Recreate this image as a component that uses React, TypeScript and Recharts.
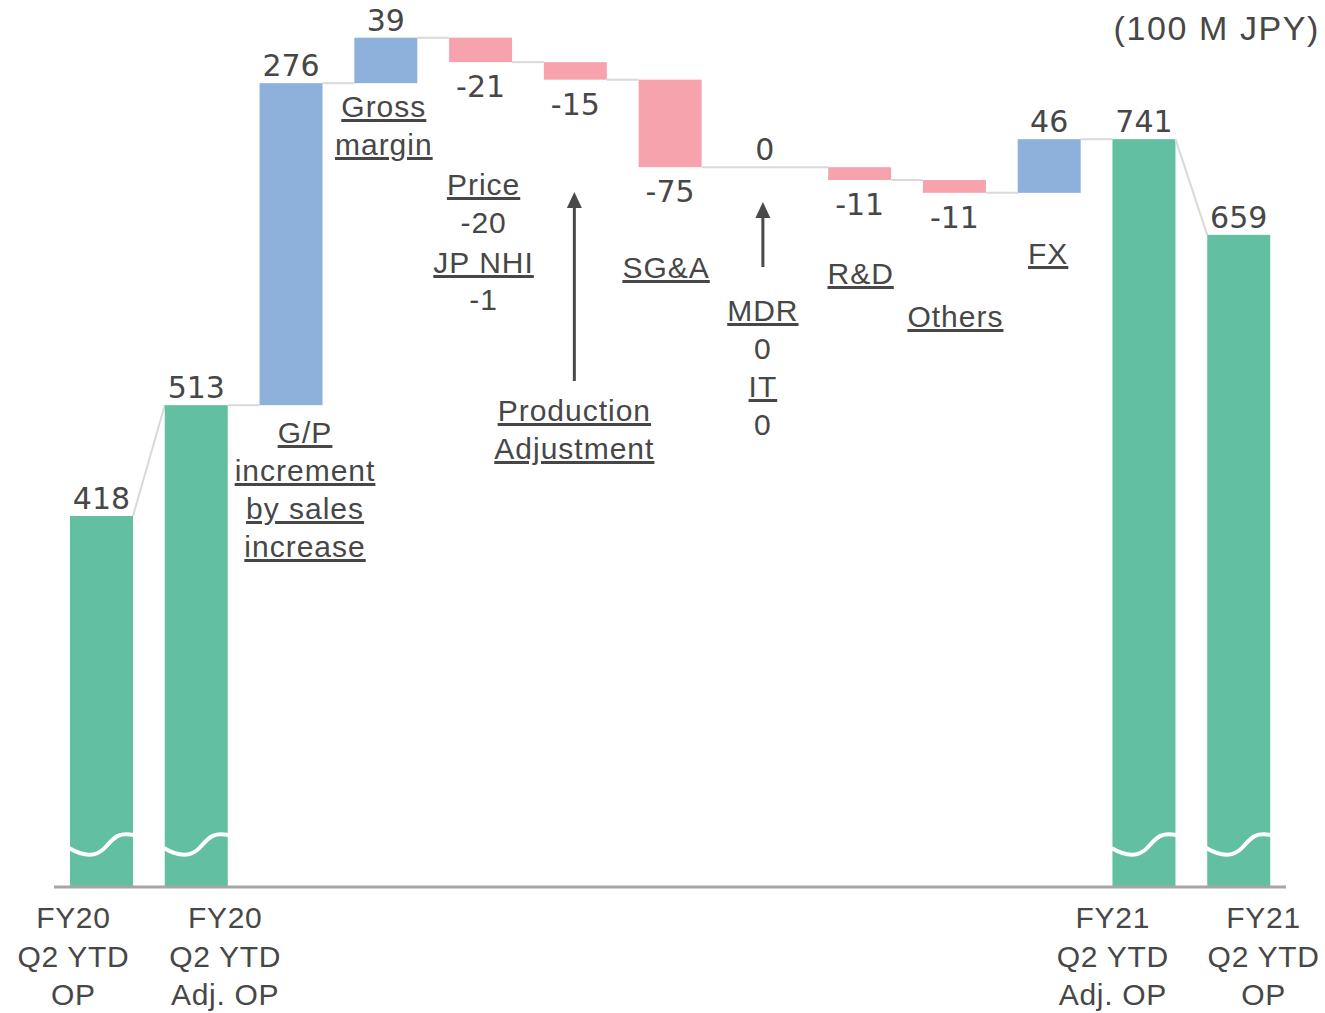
import { ComposedChart, Bar, XAxis, YAxis } from 'recharts';

const categories = [
  'FY20 Q2 YTD OP',
  'FY20 Q2 YTD Adj. OP',
  'G/P increment by sales increase',
  'Gross margin',
  'Price',
  'Production Adjustment',
  'SG&A',
  'MDR/IT',
  'R&D',
  'Others',
  'FX',
  'FY21 Q2 YTD Adj. OP',
  'FY21 Q2 YTD OP',
];
const values = [418, 513, 276, 39, -21, -15, -75, 0, -11, -11, 46, 741, 659];
const kinds = ['total', 'total', 'delta', 'delta', 'delta', 'delta', 'delta', 'delta', 'delta', 'delta', 'delta', 'total', 'total'];
const tickLines: string[][] = [
  ['FY20', 'Q2 YTD', 'OP'],
  ['FY20', 'Q2 YTD', 'Adj. OP'],
  [], [], [], [], [], [], [], [], [],
  ['FY21', 'Q2 YTD', 'Adj. OP'],
  ['FY21', 'Q2 YTD', 'OP'],
];

const W = 1325;
const H = 1013;
const MARGIN = { top: 12, right: 39, bottom: 0, left: 54 };
const X_AXIS_H = 126;
const BAR_SIZE = 63;
const BAND = (W - MARGIN.left - MARGIN.right) / categories.length;
const GAP = BAND - BAR_SIZE;
const AXIS_MIN = 100;
const AXIS_MAX = 850;
const BREAK_LEVEL = 136;

const GREEN = '#63BFA1';
const BLUE = '#8DB1DA';
const PINK = '#F7A3AE';
const LINK = '#d9d9d9';
const TEXT = '#474747';
const SANS = '"Liberation Sans", Arial, sans-serif';
const NUM = '"DejaVu Sans", Verdana, sans-serif';

// shift of the axis captions from the bar centre
const tickShift: Record<number, number> = { 0: -28, 1: 29, 11: -31, 12: 25 };

type NoteLine = { t: string; y: number; u?: boolean };
type Note = { dx: number; lines: NoteLine[]; arrow?: { from: number; to: number } };

const notes: Record<string, Note> = {
  'G/P increment by sales increase': {
    dx: 14,
    lines: [
      { t: 'G/P', y: 443, u: true },
      { t: 'increment', y: 481, u: true },
      { t: 'by sales', y: 519, u: true },
      { t: 'increase', y: 557, u: true },
    ],
  },
  'Gross margin': {
    dx: -2,
    lines: [
      { t: 'Gross', y: 117, u: true },
      { t: 'margin', y: 155, u: true },
    ],
  },
  Price: {
    dx: 3,
    lines: [
      { t: 'Price', y: 195, u: true },
      { t: '-20', y: 233 },
      { t: 'JP NHI', y: 273, u: true },
      { t: '-1', y: 310 },
    ],
  },
  'Production Adjustment': {
    dx: -1,
    lines: [
      { t: 'Production', y: 421, u: true },
      { t: 'Adjustment', y: 459, u: true },
    ],
    arrow: { from: 381, to: 192 },
  },
  'SG&A': { dx: -4, lines: [{ t: 'SG&A', y: 278, u: true }] },
  'MDR/IT': {
    dx: -2,
    lines: [
      { t: 'MDR', y: 321, u: true },
      { t: '0', y: 359 },
      { t: 'IT', y: 397, u: true },
      { t: '0', y: 435 },
    ],
    arrow: { from: 267, to: 202 },
  },
  'R&D': { dx: 1, lines: [{ t: 'R&D', y: 284, u: true }] },
  Others: { dx: 1, lines: [{ t: 'Others', y: 327, u: true }] },
  FX: { dx: -1, lines: [{ t: 'FX', y: 264, u: true }] },
};

let running = 0;
const rows = categories.map((name, i) => {
  const v = values[i];
  const prevEnd = running;
  if (kinds[i] === 'total') {
    running = v;
    return { name, value: v, kind: 'total', range: [AXIS_MIN, v], start: v, end: v, prevEnd };
  }
  const end = running + v;
  const row = {
    name,
    value: v,
    kind: 'delta',
    range: [Math.min(running, end), Math.max(running, end)],
    start: running,
    end,
    prevEnd,
  };
  running = end;
  return row;
});

const WaterfallBar = (props: any) => {
  const { x, y, width, height, payload } = props;
  const idx = categories.indexOf(payload.name);
  const top = Math.min(y, y + height);
  const h = Math.abs(height);
  const [lo, hi] = payload.range;
  const ppu = hi > lo ? h / (hi - lo) : 0;
  const yOf = (lvl: number) => top + h - (lvl - lo) * ppu;
  const cx = x + width / 2;
  const fill = payload.kind === 'total' ? GREEN : payload.value > 0 ? BLUE : PINK;
  const note = notes[payload.name];
  const below = payload.value < 0;
  const yc = yOf(BREAK_LEVEL);

  return (
    <g>
      {idx > 0 && (
        <line x1={x - GAP} y1={yOf(payload.prevEnd)} x2={x} y2={yOf(payload.start)} stroke={LINK} strokeWidth={2} />
      )}
      {h > 0 ? (
        <rect x={x} y={top} width={width} height={h} fill={fill} />
      ) : (
        <line x1={x} y1={top} x2={x + width} y2={top} stroke={LINK} strokeWidth={2} />
      )}
      {payload.kind === 'total' && (
        <path
          d={`M ${x - 1} ${yc + 3} C ${x + width * 0.2} ${yc + 11}, ${x + width * 0.4} ${yc + 13}, ${x + width * 0.55} ${yc + 3} S ${x + width * 0.75} ${yc - 13}, ${x + width + 1} ${yc - 10}`}
          fill="none"
          stroke="#ffffff"
          strokeWidth={4}
        />
      )}
      <text
        x={cx}
        y={below ? top + h + 35 : top - 7}
        textAnchor="middle"
        fontFamily={NUM}
        fontSize={30}
        fill={TEXT}
      >
        {payload.value}
      </text>
      {note && (
        <g>
          {note.lines.map((l, k) => (
            <text
              key={k}
              x={cx + note.dx}
              y={l.y}
              textAnchor="middle"
              fontFamily={SANS}
              fontSize={30}
              letterSpacing={1}
              fill={TEXT}
              style={l.u ? { textDecoration: 'underline' } : undefined}
            >
              {l.t}
            </text>
          ))}
          {note.arrow && (
            <g>
              <line
                x1={cx + note.dx}
                y1={note.arrow.from}
                x2={cx + note.dx}
                y2={note.arrow.to + 12}
                stroke="#4a4a4a"
                strokeWidth={3}
              />
              <polygon
                points={`${cx + note.dx},${note.arrow.to} ${cx + note.dx - 7.5},${note.arrow.to + 16} ${cx + note.dx + 7.5},${note.arrow.to + 16}`}
                fill="#4a4a4a"
              />
            </g>
          )}
        </g>
      )}
    </g>
  );
};

const renderTick = (props: any) => {
  const { x, y, payload } = props;
  const i = categories.indexOf(payload.value);
  const lines = tickLines[i] ?? [];
  const dx = tickShift[i] ?? 0;
  return (
    <g>
      {lines.map((t, k) => (
        <text
          key={k}
          x={x + dx}
          y={y + 41 + k * 38.5}
          textAnchor="middle"
          fontFamily={SANS}
          fontSize={30}
          letterSpacing={0.7}
          fill={TEXT}
        >
          {t}
        </text>
      ))}
    </g>
  );
};

const App = () => {
  return (
    <div style={{ position: 'absolute', left: 0, top: 0, width: W, height: H, background: '#fff' }}>
      <ComposedChart width={W} height={H} data={rows} margin={MARGIN}>
        <XAxis
          dataKey="name"
          interval={0}
          height={X_AXIS_H}
          tickLine={false}
          tickSize={0}
          tickMargin={0}
          axisLine={{ stroke: '#a6a6a6', strokeWidth: 3 }}
          tick={renderTick}
        />
        <YAxis hide domain={[AXIS_MIN, AXIS_MAX]} />
        <Bar dataKey="range" barSize={BAR_SIZE} shape={WaterfallBar} isAnimationActive={false} />
      </ComposedChart>
      <div
        style={{
          position: 'absolute',
          right: 5,
          top: 9,
          fontFamily: SANS,
          fontSize: 34,
          letterSpacing: 1.6,
          color: TEXT,
          lineHeight: 'normal',
          whiteSpace: 'nowrap',
        }}
      >
        (100 M JPY)
      </div>
    </div>
  );
};

export default App;
